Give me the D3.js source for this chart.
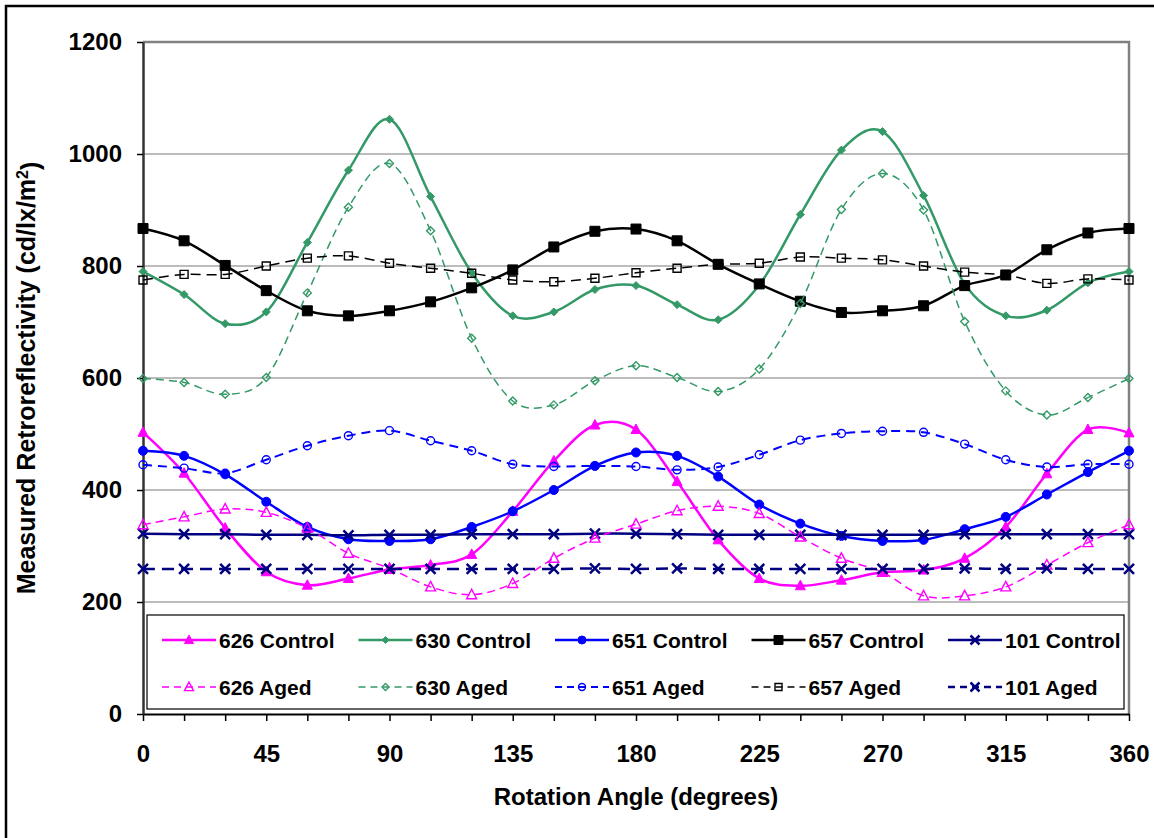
<!DOCTYPE html>
<html>
<head>
<meta charset="utf-8">
<script src="https://cdn.jsdelivr.net/npm/d3@7"></script>
<style>
  body { margin: 0; background: #fff; }
  text { font-family: "Liberation Sans", Arial, sans-serif; font-weight: bold; fill: #000; }
</style>
</head>
<body>
<div id="my_dataviz"></div>
<script>
// rotation angles (degrees)
const angles = [0, 15, 30, 45, 60, 75, 90, 105, 120, 135, 150, 165, 180, 195, 210, 225, 240, 255, 270, 285, 300, 315, 330, 345, 360];

// measured retroreflectivity
const c626 = [503, 430, 332, 254, 230, 242, 258, 266, 285, 362, 452, 516, 508, 415, 311, 242, 229, 239, 253, 257, 278, 334, 429, 508, 502];
const c630 = [790, 749, 697, 718, 842, 971, 1062, 924, 788, 711, 718, 758, 765, 731, 704, 766, 892, 1007, 1040, 926, 768, 711, 721, 770, 790];
const c651 = [470, 461, 428, 379, 334, 312, 309, 312, 334, 362, 400, 443, 467, 461, 424, 374, 340, 318, 309, 311, 330, 352, 392, 432, 470];
const c657 = [867, 845, 801, 756, 720, 711, 720, 736, 761, 793, 834, 862, 866, 845, 803, 768, 737, 717, 720, 729, 765, 784, 829, 859, 867];
const c101 = [322, 321, 321, 320, 320, 319, 320, 320, 321, 321, 321, 322, 322, 321, 320, 320, 320, 320, 320, 320, 321, 321, 321, 321, 321];
const a626 = [338, 352, 366, 360, 332, 287, 260, 227, 213, 233, 278, 314, 339, 363, 371, 358, 316, 278, 253, 211, 211, 227, 266, 306, 338];
const a630 = [599, 592, 571, 601, 752, 905, 983, 863, 671, 559, 552, 595, 622, 601, 576, 616, 733, 901, 965, 900, 701, 577, 534, 565, 599];
const a651 = [445, 439, 430, 454, 479, 497, 506, 488, 470, 446, 442, 443, 442, 436, 441, 463, 489, 501, 505, 503, 482, 454, 441, 446, 446];
const a657 = [775, 785, 785, 800, 814, 818, 805, 796, 787, 775, 772, 778, 788, 796, 803, 805, 816, 814, 811, 800, 789, 784, 769, 777, 775];
const a101 = [259, 259, 259, 259, 259, 259, 259, 259, 259, 259, 259, 260, 259, 260, 259, 259, 259, 259, 259, 259, 260, 259, 260, 259, 259];

const yTicks = [0, 200, 400, 600, 800, 1000, 1200];
const xLabels = [0, 45, 90, 135, 180, 225, 270, 315, 360];

// series in legend order (row 1 controls, row 2 aged)
const series = [
  { name: "626 Control", values: c626, color: "#ff00ff", width: 2.5, dash: null, marker: "triangle", fill: true },
  { name: "630 Control", values: c630, color: "#339966", width: 2.5, dash: null, marker: "diamond", fill: true },
  { name: "651 Control", values: c651, color: "#0000ff", width: 2.5, dash: null, marker: "circle", fill: true },
  { name: "657 Control", values: c657, color: "#000000", width: 2.5, dash: null, marker: "square", fill: true },
  { name: "101 Control", values: c101, color: "#000080", width: 2.5, dash: null, marker: "x", fill: true },
  { name: "626 Aged", values: a626, color: "#ff00ff", width: 1.5, dash: "8,5", marker: "triangle", fill: false },
  { name: "630 Aged", values: a630, color: "#339966", width: 1.5, dash: "8,5", marker: "diamond", fill: false },
  { name: "651 Aged", values: a651, color: "#0000ff", width: 2, dash: "9,6", marker: "circle", fill: false },
  { name: "657 Aged", values: a657, color: "#000000", width: 1.5, dash: "10,6", marker: "square", fill: false },
  { name: "101 Aged", values: a101, color: "#000080", width: 2.5, dash: "12,7", marker: "x", fill: false }
];

const width = 1154, height = 838;
const plot = { left: 143, right: 1129, top: 42, bottom: 714 };

const svg = d3.select("#my_dataviz")
  .append("svg")
    .attr("width", width)
    .attr("height", height);

// outer frame (only left/top edges show in the window)
svg.append("rect")
  .attr("x", 6).attr("y", 6)
  .attr("width", width + 20).attr("height", height + 20)
  .attr("fill", "#fff")
  .attr("stroke", "#000")
  .attr("stroke-width", 2.5);

const x = d3.scaleLinear().domain([0, 360]).range([plot.left, plot.right]);
const y = d3.scaleLinear().domain([0, 1200]).range([plot.bottom, plot.top]);

// gridlines
svg.append("g")
  .selectAll("line")
  .data(yTicks.filter(d => d > 0 && d < 1200))
  .join("line")
    .attr("x1", plot.left).attr("x2", plot.right)
    .attr("y1", d => y(d)).attr("y2", d => y(d))
    .attr("stroke", "#a6a6a6")
    .attr("stroke-width", 1.5);

// plot area top and right border
svg.append("path")
  .attr("d", `M${plot.left},${y(1200)}H${plot.right}V${plot.bottom}`)
  .attr("fill", "none")
  .attr("stroke", "#808080")
  .attr("stroke-width", 2.5);

// axes
const xAxis = svg.append("g")
  .attr("transform", `translate(0,${plot.bottom})`)
  .call(d3.axisBottom(x)
    .tickValues(angles)
    .tickSize(7)
    .tickSizeOuter(0)
    .tickPadding(24)
    .tickFormat(d => xLabels.includes(d) ? d : ""));
xAxis.select(".domain").attr("stroke", "#000").attr("stroke-width", 2);
xAxis.selectAll(".tick line").attr("stroke", "#000").attr("stroke-width", 1.5);
xAxis.selectAll("text").style("font-size", "24px").attr("fill", "#000");

const yAxis = svg.append("g")
  .attr("transform", `translate(${plot.left},0)`)
  .call(d3.axisLeft(y)
    .tickValues(yTicks)
    .tickSize(6)
    .tickSizeOuter(0)
    .tickPadding(15)
    .tickFormat(d3.format("d")));
yAxis.select(".domain").attr("stroke", "#333").attr("stroke-width", 2.5);
yAxis.selectAll(".tick line").attr("stroke", "#000").attr("stroke-width", 1.5);
yAxis.selectAll("text").style("font-size", "24px").attr("fill", "#000");

// axis titles
svg.append("text")
  .attr("x", (plot.left + plot.right) / 2)
  .attr("y", 797)
  .attr("dy", "0.35em")
  .attr("text-anchor", "middle")
  .style("font-size", "24px")
  .text("Rotation Angle (degrees)");

const yTitle = svg.append("text")
  .attr("transform", `translate(26,${(plot.top + plot.bottom) / 2}) rotate(-90)`)
  .attr("dy", "0.35em")
  .attr("text-anchor", "middle")
  .style("font-size", "25px");
yTitle.append("tspan").text("Measured Retroreflectivity (cd/lx/m");
yTitle.append("tspan").attr("dy", "-0.45em").style("font-size", "16px").text("2");
yTitle.append("tspan").attr("dy", "0.45em").text(")");

// marker shapes
function markerPath(type, s) {
  const h = s / 2;
  if (type === "triangle") return `M0,${-h * 1.1}L${h},${h * 0.8}L${-h},${h * 0.8}Z`;
  if (type === "diamond") return `M0,${-h}L${h},0L0,${h}L${-h},0Z`;
  if (type === "square") return `M${-h},${-h}H${h}V${h}H${-h}Z`;
  if (type === "x") return `M${-h},${-h}L${h},${h}M${-h},${h}L${h},${-h}`;
  return d3.arc()({ innerRadius: 0, outerRadius: h, startAngle: 0, endAngle: 2 * Math.PI });
}
function markerSize(sr) {
  if (sr.marker === "triangle") return 10;
  if (sr.marker === "diamond") return 8;
  if (sr.marker === "square") return sr.fill ? 10 : 8;
  if (sr.marker === "x") return 10;
  return sr.fill ? 9 : 8;
}
function styleMarker(sel, sr) {
  if (sr.marker === "x") {
    sel.attr("fill", "none").attr("stroke", sr.color).attr("stroke-width", 2.5);
  } else if (sr.fill) {
    sel.attr("fill", sr.color).attr("stroke", sr.color).attr("stroke-width", 1);
  } else {
    sel.attr("fill", "none").attr("stroke", sr.color).attr("stroke-width", 1.4);
  }
}

// smoothed lines, like Excel
const line = d3.line()
  .x((d, i) => x(angles[i]))
  .y(d => y(d))
  .curve(d3.curveCardinal.tension(0));

series.forEach(sr => {
  svg.append("path")
    .attr("d", line(sr.values))
    .attr("fill", "none")
    .attr("stroke", sr.color)
    .attr("stroke-width", sr.width)
    .attr("stroke-dasharray", sr.dash);

  const marks = svg.append("g")
    .selectAll("path")
    .data(sr.values)
    .join("path")
      .attr("transform", (d, i) => `translate(${x(angles[i])},${y(d)})`)
      .attr("d", markerPath(sr.marker, markerSize(sr)));
  styleMarker(marks, sr);
});

// legend
const legend = svg.append("g");
legend.append("rect")
  .attr("x", 147).attr("y", 615)
  .attr("width", 977).attr("height", 94)
  .attr("fill", "#fff")
  .attr("stroke", "#000")
  .attr("stroke-width", 1.2);

series.forEach((sr, k) => {
  const col = k % 5, row = Math.floor(k / 5);
  const lx = 162 + col * 196.5, ly = 640 + row * 47;
  legend.append("line")
    .attr("x1", lx).attr("x2", lx + 54)
    .attr("y1", ly).attr("y2", ly)
    .attr("stroke", sr.color)
    .attr("stroke-width", sr.width)
    .attr("stroke-dasharray", sr.dash ? "7,5" : null);
  const m = legend.append("path")
    .attr("transform", `translate(${lx + 27},${ly})`)
    .attr("d", markerPath(sr.marker, markerSize(sr) - 1));
  styleMarker(m, sr);
  legend.append("text")
    .attr("x", lx + 57)
    .attr("y", ly)
    .attr("dy", "0.36em")
    .style("font-size", "21px")
    .text(sr.name);
});
</script>
</body>
</html>
